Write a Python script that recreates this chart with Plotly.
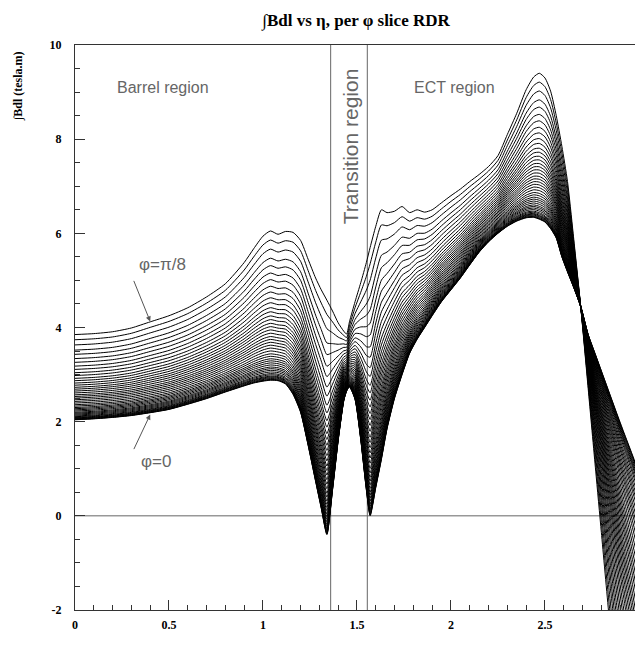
import plotly.graph_objects as go

# eta grid shared by the two boundary slices
eta = [0.00, 0.10, 0.20, 0.30, 0.40, 0.50, 0.60, 0.70, 0.80, 0.90, 0.95, 1.00, 1.04, 1.08,
       1.12, 1.16, 1.20, 1.24, 1.28, 1.31, 1.34, 1.37, 1.40, 1.43, 1.445, 1.46, 1.49, 1.52,
       1.55, 1.57, 1.60, 1.63, 1.66, 1.70, 1.74, 1.78, 1.82, 1.86, 1.90, 1.95, 2.00, 2.05,
       2.10, 2.15, 2.20, 2.25, 2.30, 2.35, 2.40, 2.44, 2.47, 2.50, 2.53, 2.56, 2.59, 2.62,
       2.65, 2.69, 2.73, 2.77, 2.80, 2.84, 2.88, 2.92, 2.96, 3.00]

# phi = 0 slice
bdl_phi0 = [2.04, 2.06, 2.09, 2.13, 2.19, 2.26, 2.37, 2.49, 2.63, 2.76, 2.82, 2.86, 2.88, 2.87,
            2.80, 2.58, 2.20, 1.50, 0.73, 0.16, -0.40, 0.55, 1.60, 2.45, 2.65, 2.74, 2.47, 1.62,
            0.55, 0.00, 0.60, 1.20, 1.85, 2.50, 3.00, 3.45, 3.75, 4.00, 4.25, 4.55, 4.80, 5.05,
            5.33, 5.60, 5.82, 6.00, 6.15, 6.26, 6.33, 6.34, 6.30, 6.24, 6.10, 5.90, 5.50, 5.18,
            4.88, 4.45, 3.85, 3.41, 3.08, 2.64, 2.20, 1.77, 1.35, 0.92]

# phi = pi/8 slice
bdl_phi_pi8 = [3.85, 3.87, 3.91, 3.99, 4.12, 4.25, 4.42, 4.65, 4.93, 5.38, 5.67, 5.94, 6.05, 5.98,
               6.04, 6.02, 5.85, 5.45, 5.05, 4.80, 4.58, 4.35, 4.10, 3.92, 3.86, 4.12, 4.55, 4.95,
               5.38, 5.70, 6.15, 6.50, 6.44, 6.47, 6.57, 6.44, 6.50, 6.45, 6.50, 6.65, 6.80, 6.94,
               7.10, 7.25, 7.42, 7.65, 8.10, 8.55, 9.05, 9.32, 9.40, 9.30, 9.02, 8.50, 7.85, 7.10,
               6.00, 4.45, 2.70, 0.95, -0.35, -2.10, -3.80, -5.50, -7.20, -8.90]

# level of every phi slice at eta = 0 (bottom: phi=0, top: phi=pi/8)
slice_level_eta0 = [2.04, 2.045, 2.05, 2.06, 2.07, 2.08, 2.09, 2.105, 2.12, 2.14, 2.16, 2.18,
                    2.20, 2.225, 2.25, 2.275, 2.30, 2.33, 2.36, 2.395, 2.43, 2.465, 2.50, 2.535,
                    2.57, 2.61, 2.65, 2.69, 2.73, 2.775, 2.82, 2.87, 2.92, 2.98, 3.04, 3.11,
                    3.18, 3.26, 3.34, 3.43, 3.52, 3.63, 3.74, 3.85]

x_ticks = [0, 0.5, 1, 1.5, 2, 2.5]
x_tick_labels = ["0", "0.5", "1", "1.5", "2", "2.5"]
y_ticks = [-2, 0, 2, 4, 6, 8, 10]
y_tick_labels = ["-2", "0", "2", "4", "6", "8", "10"]
region_edges = [1.36, 1.555]

fig = go.Figure()
lo, hi = slice_level_eta0[0], slice_level_eta0[-1]
for lvl in slice_level_eta0:
    w = (lvl - lo) / (hi - lo)
    ys = [(1 - w) * a + w * b for a, b in zip(bdl_phi0, bdl_phi_pi8)]
    fig.add_trace(go.Scatter(x=eta, y=ys, mode="lines",
                             line=dict(color="black", width=1, shape="spline", smoothing=0.6),
                             showlegend=False, hoverinfo="skip"))

for xe in region_edges:
    fig.add_shape(type="line", xref="x", yref="paper", x0=xe, x1=xe, y0=0, y1=1,
                  line=dict(color="#666", width=1), layer="below")
fig.add_shape(type="line", xref="paper", yref="y", x0=0, x1=1, y0=0, y1=0,
              line=dict(color="#666", width=1), layer="below")

tickfont = dict(family="Liberation Serif", size=12, color="black", weight="bold")
fig.update_xaxes(range=[0, 2.979], showline=True, linecolor="#333", linewidth=1, mirror=True,
                 tickmode="array", tickvals=x_ticks, ticktext=x_tick_labels,
                 ticks="inside", ticklen=10, tickcolor="#333", tickfont=tickfont,
                 ticklabelstandoff=4,
                 minor=dict(dtick=0.1, ticks="inside", ticklen=5, tickcolor="#333"),
                 showgrid=False, zeroline=False)
fig.update_yaxes(range=[-2, 10], showline=True, linecolor="#333", linewidth=1, mirror=False,
                 tickmode="array", tickvals=y_ticks, ticktext=y_tick_labels,
                 ticks="inside", ticklen=10, tickcolor="#333", tickfont=tickfont,
                 ticklabelstandoff=10,
                 minor=dict(dtick=0.5, ticks="inside", ticklen=5, tickcolor="#333"),
                 showgrid=False, zeroline=False)

ann = [
    dict(x=0.47, y=9.1, text="Barrel region", size=16),
    dict(x=2.02, y=9.1, text="ECT region", size=16),
    dict(x=1.463, y=7.85, text="Transition region", textangle=-90, size=21),
    dict(x=0.467, y=5.33, text="φ=π/8", size=17),
    dict(x=0.43, y=1.15, text="φ=0", size=17),
]
for a in ann:
    sz = a.pop("size")
    fig.add_annotation(xref="x", yref="y", showarrow=False,
                       font=dict(family="Liberation Sans", size=sz, color="#666"), **a)

fig.add_annotation(xref="x", yref="y", x=0.40, y=4.13, ax=-17, ay=-42, text="",
                   showarrow=True, arrowhead=2, arrowsize=1, arrowwidth=1, arrowcolor="#555")
fig.add_annotation(xref="x", yref="y", x=0.40, y=2.15, ax=-17, ay=36, text="",
                   showarrow=True, arrowhead=2, arrowsize=1, arrowwidth=1, arrowcolor="#555")

fig.add_annotation(xref="paper", yref="paper", x=(18 - 75) / 560, y=(610 - 86) / 565,
                   xanchor="center", yanchor="middle",
                   text="∫Bdl (tesla.m)", textangle=-90, showarrow=False,
                   font=dict(family="Liberation Serif", size=12, color="black", weight="bold"))

fig.update_layout(
    width=635, height=651,
    margin=dict(l=75, r=0, t=45, b=41),
    paper_bgcolor="white", plot_bgcolor="white",
    title=dict(text="∫Bdl vs η, per φ slice RDR", x=356 / 635, xanchor="center",
               y=1 - 20 / 651, yanchor="middle",
               font=dict(family="Liberation Serif", size=17, color="black", weight="bold")),
)

fig.write_html("out.html")
